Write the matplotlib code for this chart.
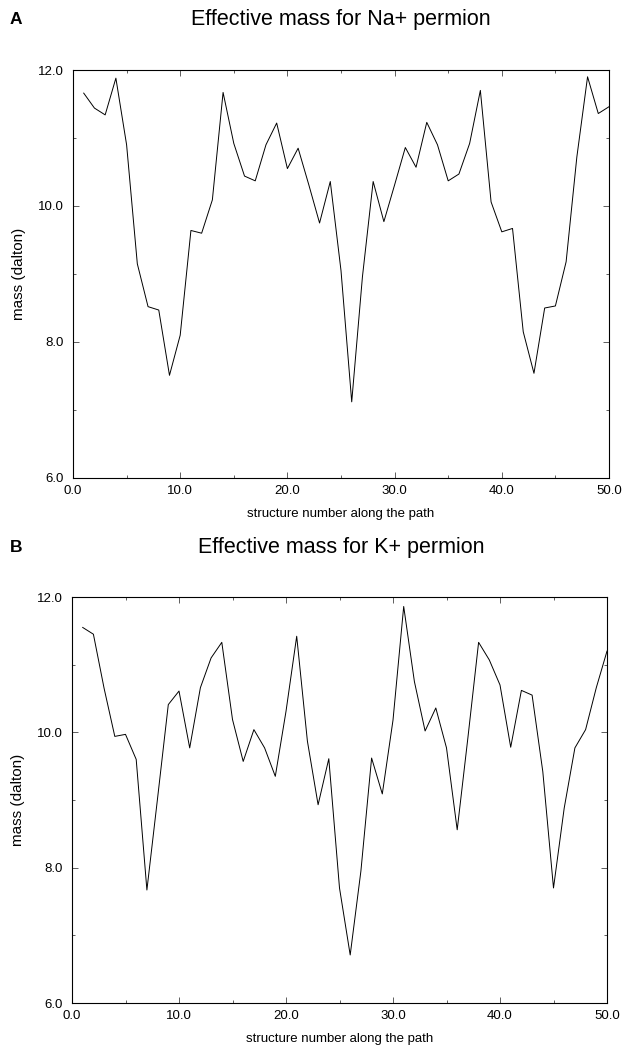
import matplotlib
matplotlib.use("Agg")
import matplotlib.pyplot as plt
from matplotlib.ticker import MultipleLocator, FormatStrFormatter

plt.rcParams['font.family'] = ['Liberation Sans', 'DejaVu Sans']

structure = list(range(1, 51))

na_mass = [11.66, 11.44, 11.34, 11.88, 10.90, 9.15, 8.52, 8.47, 7.51, 8.10,
           9.64, 9.60, 10.09, 11.67, 10.92, 10.44, 10.37, 10.90, 11.22, 10.55,
           10.85, 10.31, 9.75, 10.36, 9.05, 7.12, 8.96, 10.36, 9.77, 10.31,
           10.86, 10.57, 11.23, 10.90, 10.37, 10.47, 10.92, 11.70, 10.06, 9.62,
           9.67, 8.15, 7.54, 8.50, 8.53, 9.18, 10.72, 11.90, 11.36, 11.46]

k_mass = [11.55, 11.45, 10.65, 9.94, 9.97, 9.60, 7.67, 9.03, 10.41, 10.61,
          9.77, 10.66, 11.10, 11.33, 10.19, 9.57, 10.04, 9.77, 9.35, 10.31,
          11.42, 9.87, 8.93, 9.61, 7.70, 6.71, 7.95, 9.62, 9.09, 10.18,
          11.86, 10.75, 10.02, 10.36, 9.77, 8.56, 9.92, 11.33, 11.07, 10.70,
          9.78, 10.62, 10.55, 9.42, 7.70, 8.88, 9.77, 10.04, 10.66, 11.20]

panels = [
    ("A", "Effective mass for Na+ permion", na_mass, [73/624, 1 - 478/1046, 536/624, 408/1046], 50),
    ("B", "Effective mass for K+ permion", k_mass, [72/624, 1 - 1003/1046, 535/624, 406/1046], 50),
]

fig = plt.figure(figsize=(6.24, 10.46), dpi=100)

for letter, title, values, rect, gap in panels:
    ax = fig.add_axes(rect)
    ax.plot(structure, values, color='black', lw=0.7)
    ax.set_xlim(0, 50)
    ax.set_ylim(6, 12)
    ax.xaxis.set_major_locator(MultipleLocator(10))
    ax.xaxis.set_minor_locator(MultipleLocator(5))
    ax.yaxis.set_major_locator(MultipleLocator(2))
    ax.yaxis.set_minor_locator(MultipleLocator(1))
    ax.xaxis.set_major_formatter(FormatStrFormatter('%.1f'))
    ax.yaxis.set_major_formatter(FormatStrFormatter('%.1f'))
    ax.tick_params(which='both', direction='in', top=True, right=True,
                   labelsize=9.5, width=0.6, color='#444444')
    ax.tick_params(which='major', length=4)
    ax.tick_params(which='minor', length=2.5)
    ax.tick_params(axis='x', which='major', pad=5)
    ax.tick_params(axis='y', which='major', pad=6.5)
    for s in ax.spines.values():
        s.set_linewidth(0.8)
    ax.set_xlabel("structure number along the path", fontsize=9.5, labelpad=8)
    ax.set_ylabel("mass (dalton)", fontsize=11, labelpad=9)
    bbox = ax.get_position()
    fig.text(341/624, bbox.y1 + gap/1046, title, ha='center', va='center', fontsize=15.5)
    fig.text(16/624, bbox.y1 + gap/1046, letter, ha='center', va='center',
             fontsize=12.5, fontweight='bold')

fig.savefig("out.png", dpi=100)
